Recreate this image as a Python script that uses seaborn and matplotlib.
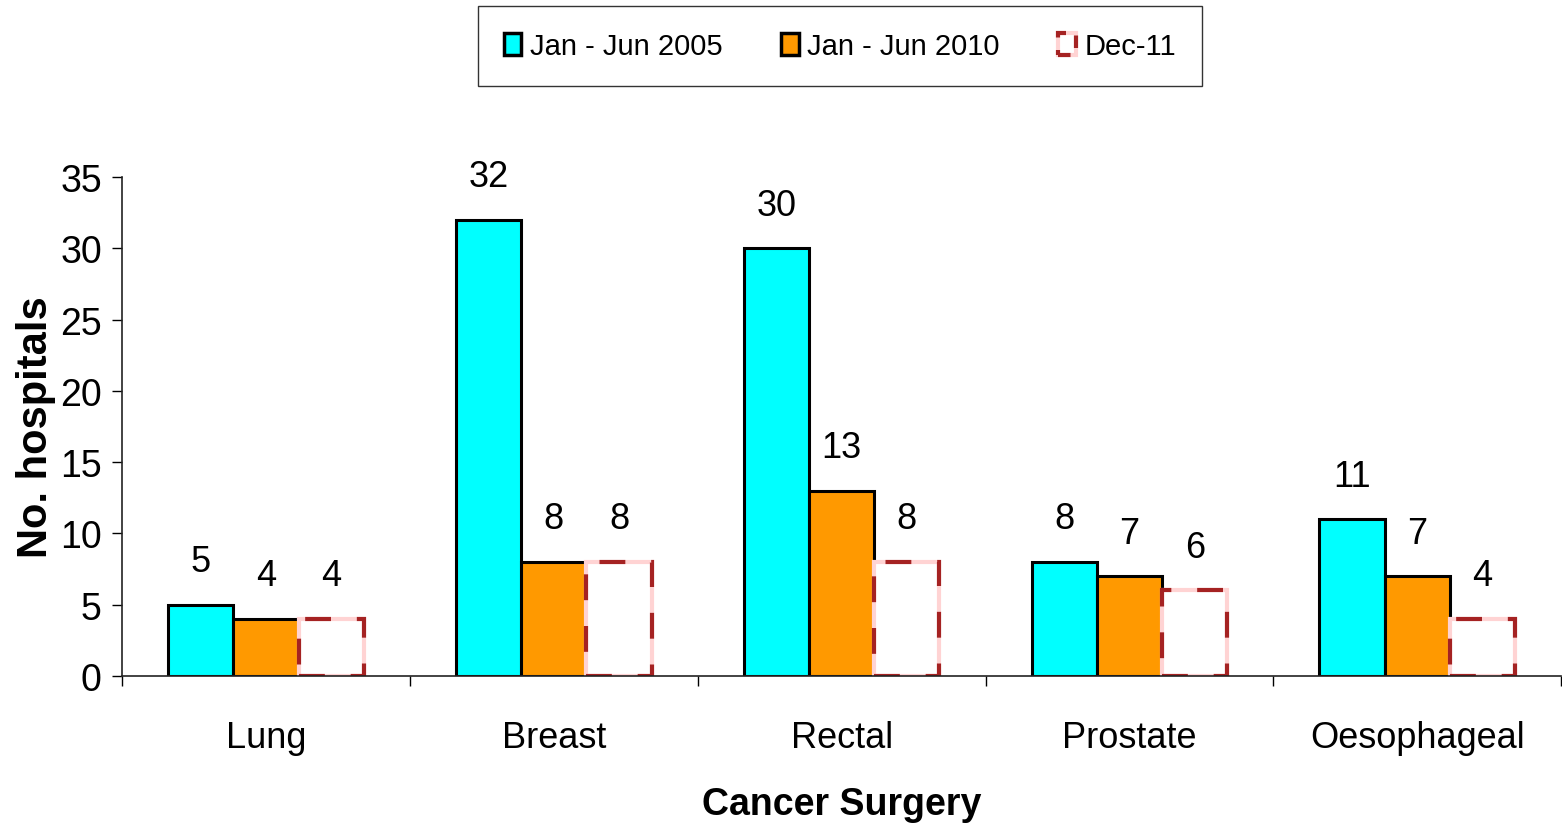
import matplotlib
matplotlib.use("Agg")
import matplotlib.pyplot as plt
import seaborn as sns
import pandas as pd
from matplotlib.patches import Rectangle, Patch

categories = ["Lung", "Breast", "Rectal", "Prostate", "Oesophageal"]
series_names = ["Jan - Jun 2005", "Jan - Jun 2010", "Dec-11"]
jan_jun_2005 = [5, 32, 30, 8, 11]
jan_jun_2010 = [4, 8, 13, 7, 7]
dec_11 = [4, 8, 8, 6, 4]
y_ticks = [0, 5, 10, 15, 20, 25, 30, 35]

sns.set_theme(style="white")
plt.rcParams['font.family'] = ['Liberation Sans', 'DejaVu Sans']
plt.rcParams['text.color'] = 'black'
plt.rcParams['axes.labelcolor'] = 'black'
plt.rcParams['xtick.color'] = 'black'
plt.rcParams['ytick.color'] = 'black'

rows = []
for s, vals in zip(series_names, [jan_jun_2005, jan_jun_2010, dec_11]):
    for c, v in zip(categories, vals):
        rows.append({"Cancer Surgery": c, "series": s, "value": v})
df = pd.DataFrame(rows)

CYAN = "#00FFFF"
ORANGE = "#FF9900"
DARKRED = "#A52222"
PINK = "#FFD3D3"

fig = plt.figure(figsize=(15.62, 8.28), dpi=100)
ax = fig.add_axes([122/1562, 151/828, 1 - 122/1562 - 0.0005, (677-178)/828])

sns.barplot(data=df, x="Cancer Surgery", y="value", hue="series",
            hue_order=series_names, order=categories,
            palette=[CYAN, ORANGE, "white"], width=0.68, saturation=1,
            edgecolor="black", linewidth=2.2, legend=False, ax=ax)

containers = ax.containers
for bar in containers[2]:
    bar.set_facecolor("white")
    bar.set_edgecolor(PINK)
    bar.set_linewidth(3)
    r = Rectangle((bar.get_x(), bar.get_y()), bar.get_width(), bar.get_height(),
                  fill=False, edgecolor=DARKRED, linewidth=3,
                  linestyle=(0, (6.2, 6.2)), zorder=bar.get_zorder() + 0.1)
    ax.add_patch(r)

for cont in containers:
    for bar in cont:
        h = bar.get_height()
        ax.annotate(f"{int(h)}", (bar.get_x() + bar.get_width()/2, h),
                    xytext=(0, 31), textcoords="offset points",
                    ha="center", va="center", fontsize=26, color="black")

ax.set_ylim(0, 35)
ax.set_xlim(-0.5, len(categories) - 0.5)
ax.set_yticks(y_ticks)
ax.set_xticks(range(len(categories)))
ax.set_xticks([i - 0.5 for i in range(len(categories) + 1)], minor=True)
ax.tick_params(axis="x", which="major", bottom=True, length=0, pad=32, labelsize=26)
ax.tick_params(axis="x", which="minor", bottom=True, length=7.5, width=1,
               direction="out", color="black")
ax.tick_params(axis="y", which="major", left=True, length=7.5, width=1, direction="out",
               color="black", labelsize=27, pad=7)
for s in ["top", "right"]:
    ax.spines[s].set_visible(False)
for s in ["left", "bottom"]:
    ax.spines[s].set_color("#222222")
    ax.spines[s].set_linewidth(1.2)

ax.set_xlabel("Cancer Surgery", fontsize=27, fontweight="bold", labelpad=22)
ax.set_ylabel("No. hospitals", fontsize=30, fontweight="bold", labelpad=3)

h1 = Patch(facecolor=CYAN, edgecolor="black", linewidth=2.5)
h2 = Patch(facecolor=ORANGE, edgecolor="black", linewidth=2.5)
h3a = Patch(facecolor="white", edgecolor=PINK, linewidth=3)
h3b = Patch(fill=False, edgecolor=DARKRED, linewidth=3, linestyle=(0, (3, 3)))
leg = fig.legend([h1, h2, (h3a, h3b)], series_names, loc="center",
                 bbox_to_anchor=(840/1562, 1 - 47/828), ncol=3,
                 prop={"family": "Liberation Sans", "size": 21},
                 frameon=True, fancybox=False, edgecolor="black",
                 handlelength=0.6, handleheight=0.8, handletextpad=0.3,
                 columnspacing=2.0, borderpad=0.9)
leg.get_frame().set_linewidth(1.0)

fig.savefig("out.png", dpi=100)
